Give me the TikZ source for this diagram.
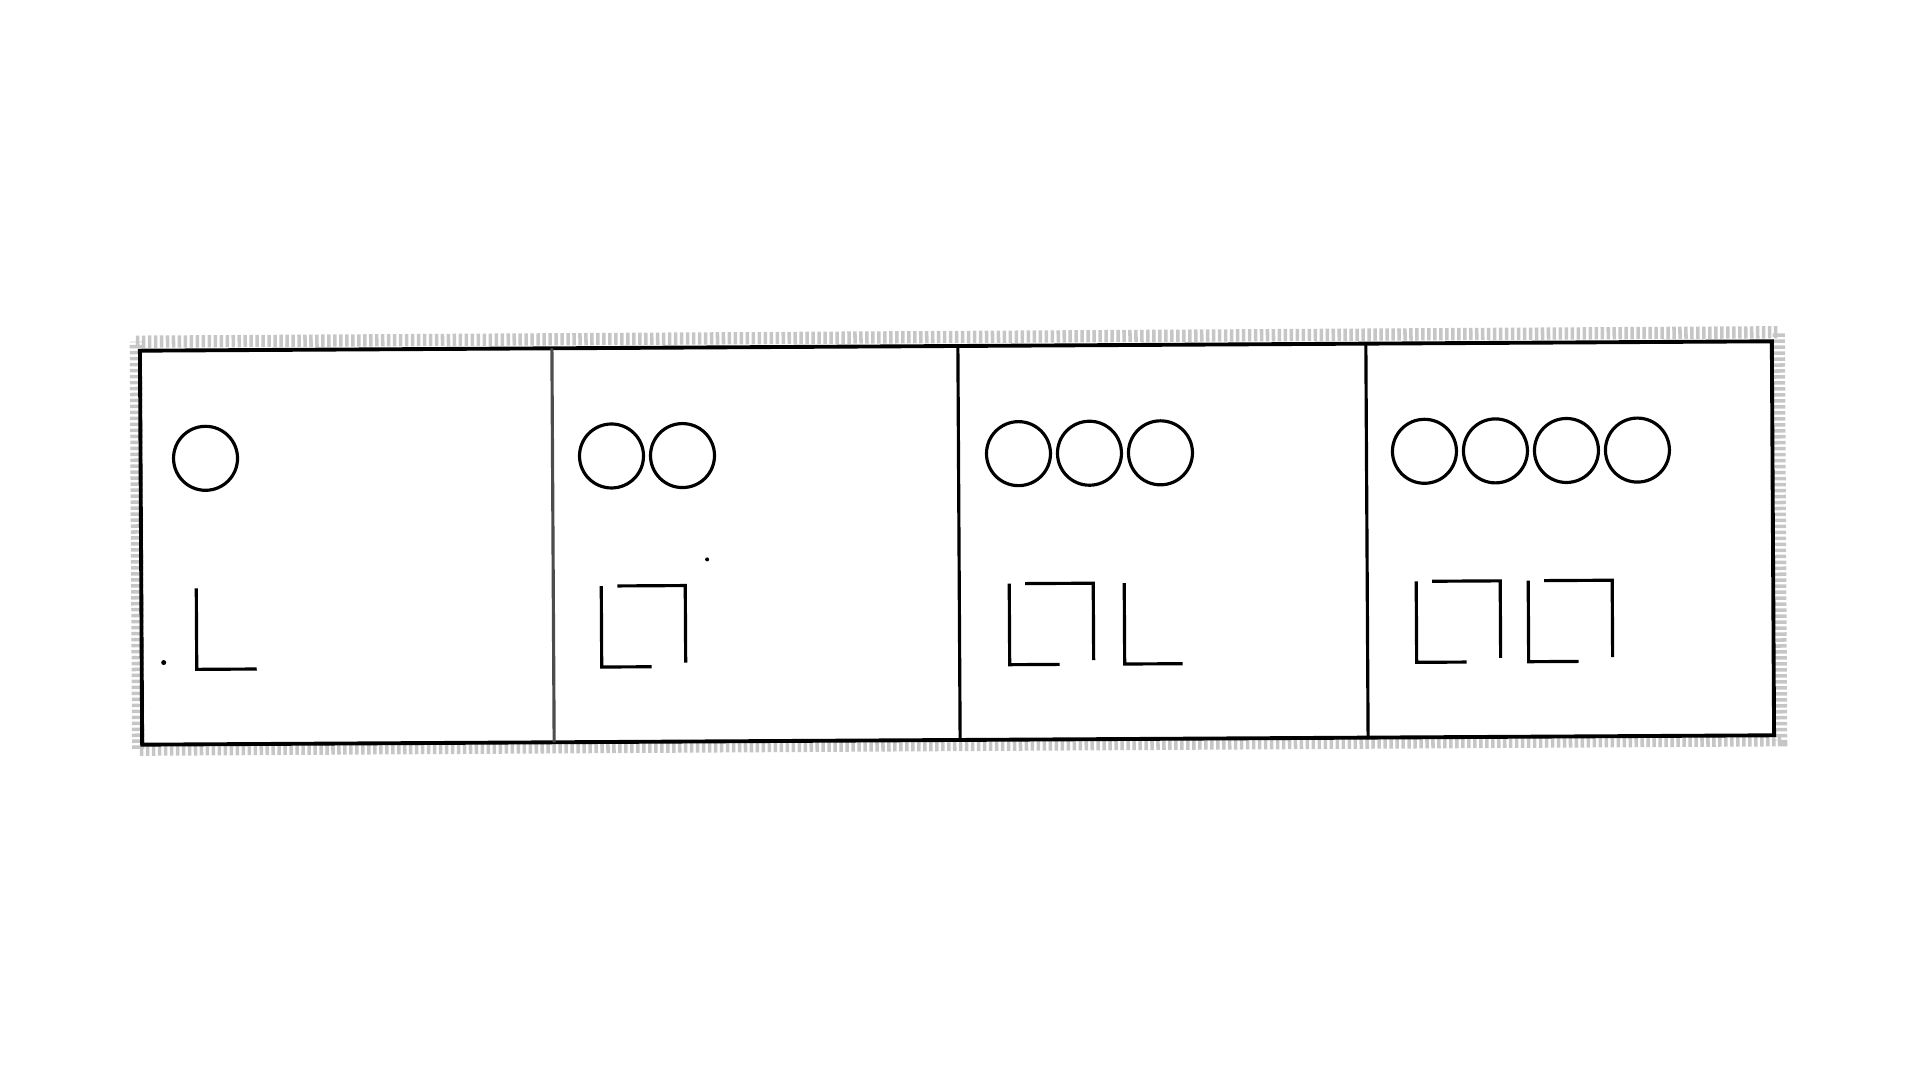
\documentclass[tikz,border=0pt]{standalone}
\begin{document}
\begin{tikzpicture}[x=0.01cm,y=-0.01cm]
  \def\bxl{141}
  \def\bxr{1773}
  \def\byt{346}
  \def\byb{740}
  \def\rc{32};
  \def\dc{71};
  \def\yc{454};
  \def\yt{584};
  \def\yb{665};
  \def\wl{50};
  \def\wsq{84};
  \useasboundingbox (0,0) rectangle (1920,1080);
  \begin{scope}[rotate around={0.33:(957,543)}, line width=0.9pt]
        %scan fringe
        \draw[gray!45, line width=3.5pt, dash pattern=on 1pt off 0.7pt] (\bxl-4,\byt-9)
        --(\bxr+7,\byt-9)--(\bxr+7,\byb+5)--(\bxl-4,\byb+5)--cycle;
        %frame and dividers
        \draw[line width=1.1pt] (\bxl,\byt) rectangle (\bxr,\byb);
        \draw[gray!60!black] (553,\byt)--(553,\byb);
        \draw (959,\byt)--(959,\byb);
        \draw (1367,\byt)--(1367,\byb);
        %circles
        \foreach \x/\n in {206/1,612/2,1019/3,1425/4}
          \foreach \i in {1,...,\n}
            \draw (\x+\i*\dc-\dc,\yc) circle (\rc);
        %L strokes
        \draw (196,\yt)--(196,\yb)--++(60,0);
        \draw (1124,\yt)--(1124,\yb)--++(58,0);
        \foreach \x in {601,1009,1416,1528}{
          \draw (\x,\yt)--(\x,\yb)--++(\wl,0);
          \draw (\x+16,\yt)--(\x+\wsq,\yt)--++(0,\yb-\yt-4);
        }
        %specks
        \fill (163,658) circle (2.5);
        \fill (707,558) circle (2);
  \end{scope}
\end{tikzpicture}
\end{document}
